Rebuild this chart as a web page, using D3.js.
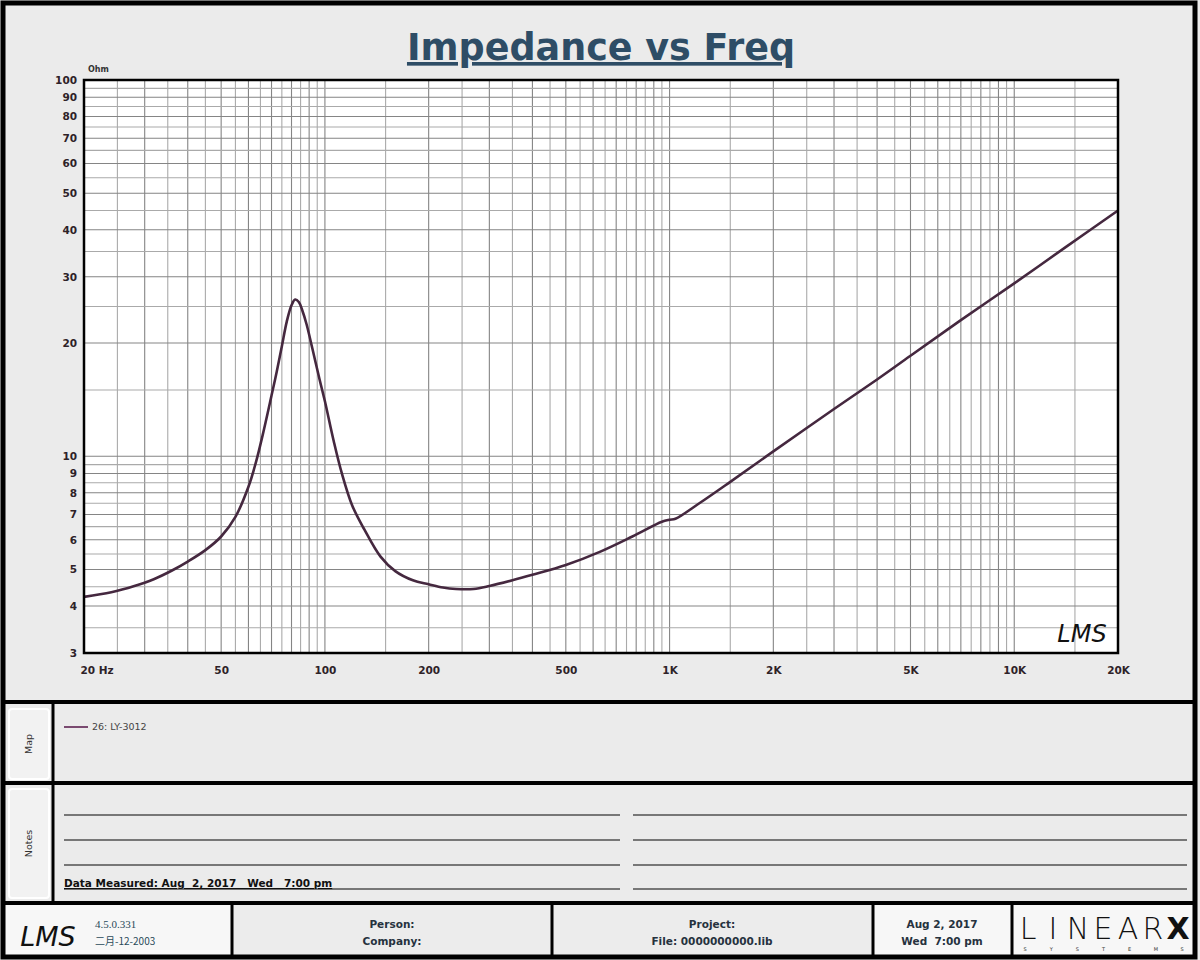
<!DOCTYPE html>
<html>
<head>
<meta charset="utf-8">
<script src="https://cdn.jsdelivr.net/npm/d3@7"></script>
<style>
  body { margin: 0; background: #fff; }
  svg { display: block; }
</style>
</head>
<body>
<svg id="chart" width="1200" height="960"></svg>
<script>
// impedance curve (Hz, Ohm)
const freqs = [20, 24, 28, 32, 36, 40, 45, 50, 55, 60, 63, 66, 70, 72.5, 75, 77.5, 80, 82, 84, 86, 88.5,
  92, 96.5, 100, 106, 112, 120, 130, 145, 160, 180, 200, 220, 240, 270, 300, 350, 400, 500, 630, 780,
  950, 1000, 1040, 1220, 1500, 2000, 3000, 4000, 5000, 7000, 10000, 14000, 20000];
const ohms = [4.23, 4.35, 4.52, 4.72, 4.97, 5.25, 5.63, 6.12, 6.9, 8.3, 9.6, 11.4, 14.5, 16.8, 19.6, 22.8, 25.2, 26.1, 25.7, 24.4, 22.4,
  19.3, 16.0, 14.0, 11.0, 9.0, 7.4, 6.4, 5.41, 4.95, 4.68, 4.57, 4.48, 4.44, 4.44, 4.52, 4.68, 4.84, 5.14, 5.58, 6.12,
  6.7, 6.78, 6.82, 7.5, 8.55, 10.3, 13.35, 16.0, 18.5, 23.0, 28.8, 35.8, 45.0];

const freqTicks = [20, 50, 100, 200, 500, 1000, 2000, 5000, 10000, 20000];
const freqTickLabels = ["20 Hz", "50", "100", "200", "500", "1K", "2K", "5K", "10K", "20K"];
const ohmTicks = [3, 4, 5, 6, 7, 8, 9, 10, 20, 30, 40, 50, 60, 70, 80, 90, 100];
const gridSteps = [1, 1.5, 2, 2.5, 3, 3.5, 4, 4.5, 5, 5.5, 6, 6.5, 7, 7.5, 8, 8.5, 9, 9.5];

const seriesName = "26: LY-3012";
const footerCells = [
  ["Person:", "Company:"],
  ["Project:", "File: 0000000000.lib"],
  ["Aug 2, 2017", "Wed  7:00 pm"]
];

const plot = {left: 84, right: 1118, top: 80, bottom: 653};
const font = "'DejaVu Sans', Verdana, sans-serif";

const svg = d3.select("#chart");

// page background
svg.append("rect").attr("width", 1200).attr("height", 960).attr("fill", "#ebebeb");

const x = d3.scaleLog().domain([20, 20000]).range([plot.left, plot.right]);
const y = d3.scaleLog().domain([3, 100]).range([plot.bottom, plot.top]);

// title
svg.append("text")
  .attr("x", 601)
  .attr("y", 60)
  .attr("text-anchor", "middle")
  .attr("font-family", font)
  .attr("font-weight", "bold")
  .attr("font-size", "36.5px")
  .attr("fill", "#2e4d66")
  .style("text-decoration", "underline")
  .text("Impedance vs Freq");

svg.append("text")
  .attr("x", 88)
  .attr("y", 72)
  .attr("font-family", font)
  .attr("font-weight", "bold")
  .attr("font-size", "8px")
  .attr("fill", "#333")
  .text("Ohm");

// plot area
svg.append("rect")
  .attr("x", plot.left).attr("y", plot.top)
  .attr("width", plot.right - plot.left).attr("height", plot.bottom - plot.top)
  .attr("fill", "#fff");

// grid lines at every half step of each decade
const xGrid = [];
[10, 100, 1000, 10000].forEach(dec => gridSteps.forEach(m => {
  const f = m * dec;
  if (f > 20 && f < 20000) xGrid.push({v: f, major: Number.isInteger(m)});
}));
const yGrid = [];
[1, 10].forEach(dec => gridSteps.forEach(m => {
  const v = m * dec;
  if (v > 3 && v < 100) yGrid.push({v: v, major: Number.isInteger(m)});
}));

const grid = svg.append("g");
grid.selectAll("line.gx").data(xGrid).join("line")
  .attr("x1", d => x(d.v)).attr("x2", d => x(d.v))
  .attr("y1", plot.top).attr("y2", plot.bottom)
  .attr("stroke", d => d.major ? "#858585" : "#aaaaaa")
  .attr("stroke-width", 1.1);
grid.selectAll("line.gy").data(yGrid).join("line")
  .attr("x1", plot.left).attr("x2", plot.right)
  .attr("y1", d => y(d.v)).attr("y2", d => y(d.v))
  .attr("stroke", d => d.major ? "#858585" : "#aaaaaa")
  .attr("stroke-width", 1.1);

// axes (labels only)
const xAxis = svg.append("g")
  .attr("transform", `translate(0,${plot.bottom + 11})`)
  .call(d3.axisBottom(x).tickValues(freqTicks).tickSize(0)
    .tickFormat((d, i) => freqTickLabels[i]));
xAxis.select(".domain").remove();
xAxis.selectAll("text")
  .attr("font-family", font).attr("font-size", "10.5px").attr("fill", "#2e2228")
  .attr("font-weight", "bold");
xAxis.selectAll(".tick").filter(d => d === 20).select("text")
  .attr("text-anchor", "start").attr("dx", "-4");

const yAxis = svg.append("g")
  .attr("transform", `translate(${plot.left - 4},0)`)
  .call(d3.axisLeft(y).tickValues(ohmTicks).tickSize(0).tickFormat(d3.format("d")));
yAxis.select(".domain").remove();
yAxis.selectAll("text")
  .attr("font-family", font).attr("font-size", "10.5px").attr("fill", "#2e2228")
  .attr("font-weight", "bold");

// impedance curve
const line = d3.line()
  .x((d, i) => x(freqs[i]))
  .y(d => y(d))
  .curve(d3.curveCatmullRom.alpha(0.5));

svg.append("path")
  .datum(ohms)
  .attr("d", line)
  .attr("fill", "none")
  .attr("stroke", "#45283f")
  .attr("stroke-width", 2.6)
  .attr("stroke-linejoin", "round");

svg.append("rect")
  .attr("x", plot.left).attr("y", plot.top)
  .attr("width", plot.right - plot.left).attr("height", plot.bottom - plot.top)
  .attr("fill", "none").attr("stroke", "#000").attr("stroke-width", 2.5);

// LMS mark in the plot
svg.append("text")
  .attr("x", 1082).attr("y", 642)
  .attr("text-anchor", "middle")
  .attr("font-family", "'DejaVu Sans', sans-serif")
  .attr("font-style", "italic")
  .attr("font-weight", "200")
  .attr("font-size", "24px")
  .attr("fill", "#111")
  .text("LMS");

// ---- lower panels ----
const panels = svg.append("g");

// side label boxes
[[706, 76, "Map"], [786, 115, "Notes"]].forEach(([top, h, label]) => {
  panels.append("rect")
    .attr("x", 9).attr("y", top + 3).attr("width", 40).attr("height", h - 6)
    .attr("rx", 3).attr("fill", "#f2f2f2").attr("stroke", "#fff").attr("stroke-width", 2);
  panels.append("text")
    .attr("transform", `translate(32,${top + h / 2}) rotate(-90)`)
    .attr("text-anchor", "middle")
    .attr("font-family", font).attr("font-size", "9.5px").attr("fill", "#333")
    .text(label);
});

// legend entry
panels.append("line")
  .attr("x1", 64).attr("x2", 88).attr("y1", 727).attr("y2", 727)
  .attr("stroke", "#7a4a70").attr("stroke-width", 2);
panels.append("text")
  .attr("x", 92).attr("y", 730)
  .attr("font-family", font).attr("font-size", "9.5px").attr("fill", "#444")
  .text(seriesName);

// notes lines
const noteRows = [815, 840, 865, 889];
noteRows.forEach(ny => {
  panels.append("line").attr("x1", 64).attr("x2", 620).attr("y1", ny).attr("y2", ny)
    .attr("stroke", "#777").attr("stroke-width", 1.8);
  panels.append("line").attr("x1", 633).attr("x2", 1187).attr("y1", ny).attr("y2", ny)
    .attr("stroke", "#777").attr("stroke-width", 1.8);
});
panels.append("text")
  .attr("x", 64).attr("y", 887)
  .attr("font-family", font).attr("font-size", "10.5px").attr("font-weight", "bold")
  .attr("fill", "#111")
  .attr("xml:space", "preserve")
  .style("text-decoration", "underline")
  .text("Data Measured: Aug  2, 2017   Wed   7:00 pm");

// footer
const footer = svg.append("g");
footer.append("rect").attr("x", 3).attr("y", 905).attr("width", 229).attr("height", 52).attr("fill", "#f7f7f7");
footer.append("rect").attr("x", 232).attr("y", 905).attr("width", 320).attr("height", 52).attr("fill", "#ececec");
footer.append("rect").attr("x", 552).attr("y", 905).attr("width", 321).attr("height", 52).attr("fill", "#ececec");
footer.append("rect").attr("x", 873).attr("y", 905).attr("width", 139).attr("height", 52).attr("fill", "#f7f7f7");
footer.append("rect").attr("x", 1012).attr("y", 905).attr("width", 183).attr("height", 52).attr("fill", "#f7f7f7");

const cellCenters = [392, 712, 942];
footerCells.forEach((rows, i) => {
  rows.forEach((t, j) => {
    footer.append("text")
      .attr("x", cellCenters[i]).attr("y", 928 + j * 17)
      .attr("text-anchor", "middle")
      .attr("font-family", font).attr("font-size", "10.5px").attr("font-weight", "bold")
      .attr("fill", "#26323e")
      .attr("xml:space", "preserve")
      .text(t);
  });
});

footer.append("text")
  .attr("x", 48).attr("y", 946)
  .attr("text-anchor", "middle")
  .attr("font-family", "'DejaVu Sans', sans-serif")
  .attr("font-style", "italic").attr("font-weight", "200")
  .attr("font-size", "27px").attr("fill", "#111")
  .text("LMS");
footer.append("text")
  .attr("x", 95).attr("y", 928)
  .attr("font-family", "'Liberation Serif', serif").attr("font-size", "11px").attr("fill", "#2a4a5a")
  .text("4.5.0.331");
footer.append("text")
  .attr("x", 95).attr("y", 945)
  .attr("font-family", "'Noto Sans CJK SC', 'Liberation Serif', serif").attr("font-size", "10px").attr("fill", "#2a4a5a")
  .text("二月-12-2003");

// LinearX logo
const logoLetters = ["L", "I", "N", "E", "A", "R", "X"];
const logoX = d3.scalePoint().domain(d3.range(logoLetters.length)).range([1028, 1178]);
footer.selectAll("text.logo").data(logoLetters).join("text")
  .attr("x", (d, i) => logoX(i)).attr("y", 939)
  .attr("text-anchor", "middle")
  .attr("font-family", "'DejaVu Sans', sans-serif")
  .attr("font-weight", (d, i) => i === 6 ? "bold" : "200")
  .attr("font-size", "30px").attr("fill", "#111")
  .text(d => d);
const subLetters = ["S", "Y", "S", "T", "E", "M", "S"];
const subX = d3.scalePoint().domain(d3.range(subLetters.length)).range([1025, 1182]);
footer.selectAll("text.sub").data(subLetters).join("text")
  .attr("x", (d, i) => subX(i)).attr("y", 951)
  .attr("text-anchor", "middle")
  .attr("font-family", font).attr("font-size", "5px").attr("fill", "#333")
  .text(d => d);

// frame and separators
const frame = svg.append("g").attr("stroke", "#000").attr("fill", "none");
frame.append("rect").attr("x", 3).attr("y", 3).attr("width", 1192).attr("height", 954).attr("stroke-width", 5);
[702, 783, 903].forEach(sy => {
  frame.append("line").attr("x1", 3).attr("x2", 1195).attr("y1", sy).attr("y2", sy).attr("stroke-width", 4);
});
frame.append("line").attr("x1", 53).attr("x2", 53).attr("y1", 702).attr("y2", 903).attr("stroke-width", 3);
[232, 552, 873, 1012].forEach(sx => {
  frame.append("line").attr("x1", sx).attr("x2", sx).attr("y1", 903).attr("y2", 957).attr("stroke-width", 3);
});
</script>
</body>
</html>
